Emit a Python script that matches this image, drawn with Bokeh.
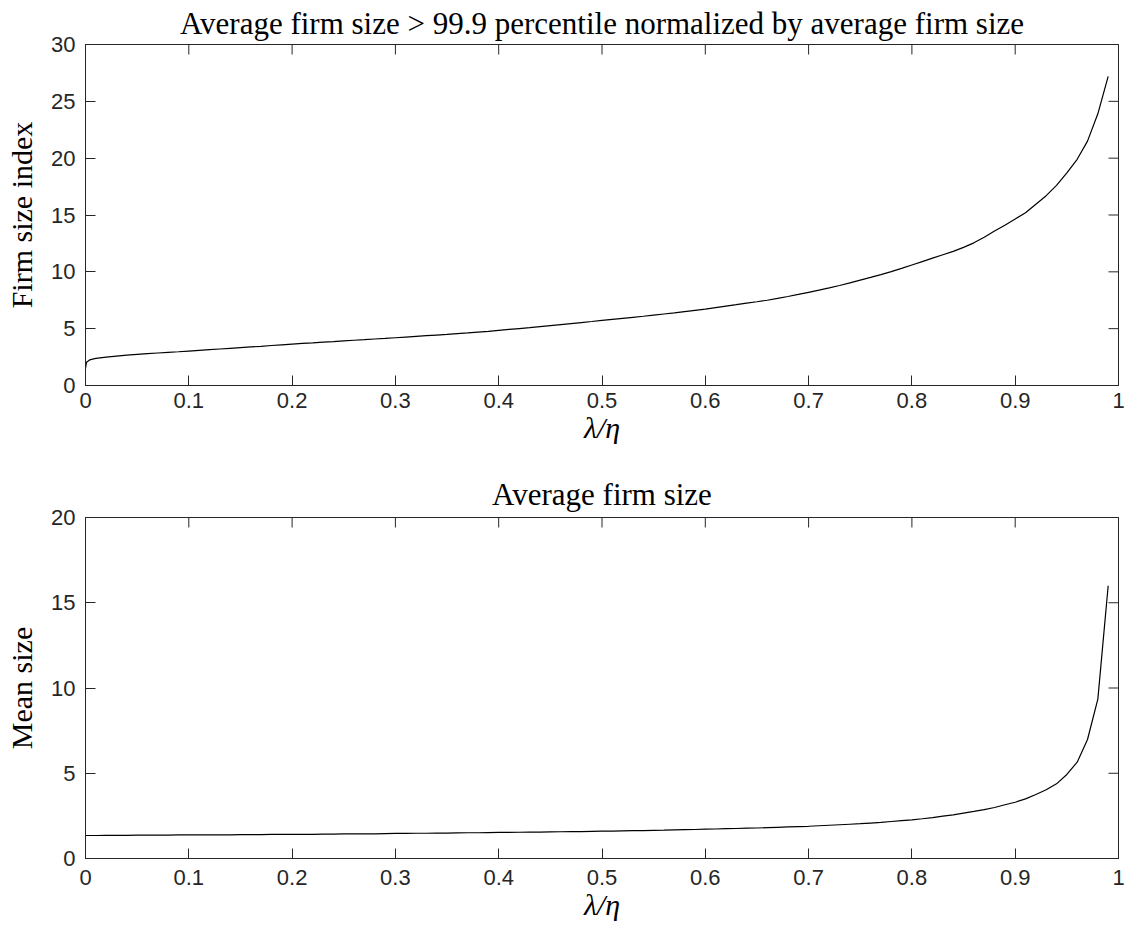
import math

from bokeh.plotting import figure
from bokeh.layouts import column
from bokeh.models import Range1d, FixedTicker, CustomJSTickFormatter
from bokeh.embed import file_html
from bokeh.resources import INLINE

# lambda/eta grid (step 0.01 from 0 to 0.99)
lam = [round(0.01 * i, 2) for i in range(100)]

# a few extra points right next to zero for the top-tail index
lam_near_zero = [0.0, 0.001, 0.004]
tail_index_near_zero = [1.50, 2.05, 2.25]

# average size of firms above the 99.9 percentile / average firm size (lam >= 0.01)
tail_index = [
    2.38, 2.50, 2.59, 2.67, 2.74, 2.80, 2.86, 2.92, 2.97,
    3.03, 3.09, 3.15, 3.21, 3.27, 3.33, 3.39, 3.45, 3.52, 3.58,
    3.64, 3.70, 3.75, 3.81, 3.86, 3.92, 3.98, 4.03, 4.09, 4.14,
    4.20, 4.26, 4.32, 4.38, 4.44, 4.50, 4.57, 4.63, 4.70, 4.77,
    4.85, 4.93, 5.01, 5.09, 5.18, 5.27, 5.36, 5.45, 5.54, 5.63,
    5.73, 5.82, 5.91, 6.00, 6.09, 6.19, 6.29, 6.39, 6.50, 6.61,
    6.72, 6.85, 6.98, 7.11, 7.25, 7.37, 7.50, 7.66, 7.83, 8.01,
    8.20, 8.39, 8.59, 8.80, 9.03, 9.27, 9.51, 9.76, 10.02, 10.30,
    10.60, 10.90, 11.20, 11.50, 11.80, 12.15, 12.55, 13.05, 13.60, 14.10,
    14.65, 15.20, 15.95, 16.70, 17.60, 18.70, 19.90, 21.50, 23.90, 27.20,
]

# mean firm size
mean_size = [
    1.35, 1.35, 1.36, 1.36, 1.36, 1.37, 1.37, 1.37, 1.37, 1.38,
    1.38, 1.38, 1.39, 1.39, 1.39, 1.40, 1.40, 1.40, 1.41, 1.41,
    1.42, 1.42, 1.42, 1.43, 1.43, 1.44, 1.44, 1.45, 1.45, 1.46,
    1.47, 1.47, 1.48, 1.48, 1.49, 1.49, 1.50, 1.51, 1.51, 1.52,
    1.53, 1.53, 1.54, 1.55, 1.55, 1.56, 1.57, 1.58, 1.58, 1.59,
    1.60, 1.61, 1.62, 1.63, 1.64, 1.65, 1.66, 1.68, 1.69, 1.70,
    1.72, 1.73, 1.75, 1.76, 1.78, 1.79, 1.81, 1.83, 1.85, 1.87,
    1.89, 1.92, 1.95, 1.98, 2.01, 2.04, 2.08, 2.12, 2.17, 2.22,
    2.27, 2.33, 2.40, 2.48, 2.56, 2.66, 2.76, 2.87, 2.99, 3.15,
    3.30, 3.50, 3.75, 4.03, 4.38, 4.93, 5.65, 6.98, 9.35, 16.00,
]

x_ticks = [0, 0.1, 0.2, 0.3, 0.4, 0.5, 0.6, 0.7, 0.8, 0.9, 1]
y_ticks_top = [0, 5, 10, 15, 20, 25, 30]
y_ticks_bottom = [0, 5, 10, 15, 20]

AX = "#262626"
SERIF = "Liberation Serif"
SANS = "Liberation Sans"
TICK = 10  # inward tick length in px

fmt_x = CustomJSTickFormatter(code="return String(Math.round(tick * 10) / 10);")


def style_axis(ax, ticks, standoff, fmt=None):
    ax.ticker = FixedTicker(ticks=ticks)
    ax.major_tick_in = TICK
    ax.major_tick_out = 0
    ax.minor_tick_in = 0
    ax.minor_tick_out = 0
    ax.major_tick_line_color = AX
    ax.axis_line_color = AX
    if fmt is not None:
        ax.formatter = fmt
    ax.major_label_text_font = SANS
    ax.major_label_text_font_size = "22px"
    ax.major_label_text_color = AX
    ax.major_label_standoff = standoff


def panel(xs, ys, ymax, y_ticks, title, ylabel, height, top, bottom,
          x_standoff, title_standoff):
    x0, x1 = 0, 1
    p = figure(width=1132, height=height,
               x_range=Range1d(x0, x1), y_range=Range1d(0, ymax),
               output_backend="svg", toolbar_location=None,
               min_border_left=85, min_border_right=14,
               min_border_top=top, min_border_bottom=bottom)
    p.grid.visible = False
    p.outline_line_color = AX
    p.outline_line_width = 1
    p.background_fill_color = "white"
    p.border_fill_color = "white"

    # mirrored inward ticks on the top and right edges (half of each dash is clipped by the frame)
    p.scatter(x=x_ticks, y=[ymax] * len(x_ticks), marker="dash", size=2 * TICK,
              angle=math.pi / 2, line_color=AX, line_width=1)
    p.scatter(x=[x1] * len(y_ticks), y=y_ticks, marker="dash", size=2 * TICK,
              line_color=AX, line_width=1)

    p.line(xs, ys, line_color="black", line_width=1.2)

    style_axis(p.xaxis[0], x_ticks, x_standoff, fmt_x)
    style_axis(p.yaxis[0], y_ticks, 10)
    p.xaxis.axis_label = "λ/η"
    p.xaxis.axis_label_text_font = SERIF
    p.xaxis.axis_label_text_font_style = "italic"
    p.xaxis.axis_label_text_font_size = "30px"
    p.xaxis.axis_label_text_color = "black"
    p.xaxis.axis_label_standoff = 0
    p.yaxis.axis_label = ylabel
    p.yaxis.axis_label_text_font = SERIF
    p.yaxis.axis_label_text_font_style = "normal"
    p.yaxis.axis_label_text_font_size = "30px"
    p.yaxis.axis_label_text_color = "black"
    p.yaxis.axis_label_standoff = 10

    p.title.text = title
    p.title.align = "center"
    p.title.text_font = SERIF
    p.title.text_font_style = "normal"
    p.title.text_font_size = "31px"
    p.title.text_color = "black"
    p.title.standoff = title_standoff
    return p


p1 = panel(lam_near_zero + lam[1:], tail_index_near_zero + tail_index, 30, y_ticks_top,
           "Average firm size > 99.9 percentile normalized by average firm size",
           "Firm size index", 466, 44, 81, 7, 7)
p2 = panel(lam, mean_size, 20, y_ticks_bottom,
           "Average firm size", "Mean size", 467, 51, 75, 11, 12)

layout = column(p1, p2, spacing=0)

open("out.html", "w").write(file_html(layout, INLINE))
